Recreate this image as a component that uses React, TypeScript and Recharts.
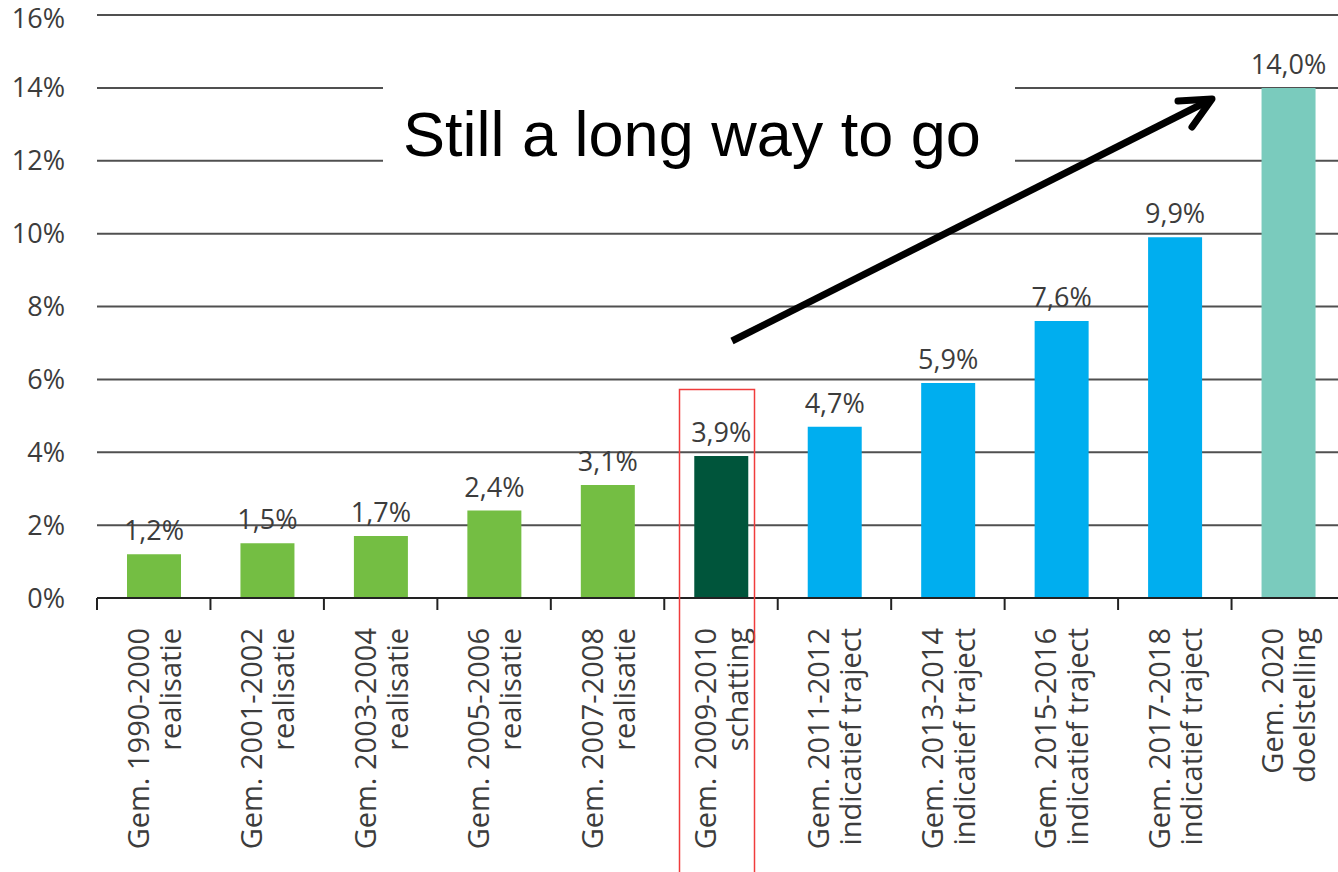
import { BarChart, Bar, XAxis, YAxis, CartesianGrid, Cell, LabelList } from 'recharts';

const periods = [
  'Gem. 1990-2000',
  'Gem. 2001-2002',
  'Gem. 2003-2004',
  'Gem. 2005-2006',
  'Gem. 2007-2008',
  'Gem. 2009-2010',
  'Gem. 2011-2012',
  'Gem. 2013-2014',
  'Gem. 2015-2016',
  'Gem. 2017-2018',
  'Gem. 2020',
];
const kinds = [
  'realisatie',
  'realisatie',
  'realisatie',
  'realisatie',
  'realisatie',
  'schatting',
  'indicatief traject',
  'indicatief traject',
  'indicatief traject',
  'indicatief traject',
  'doelstelling',
];
const shares = [1.2, 1.5, 1.7, 2.4, 3.1, 3.9, 4.7, 5.9, 7.6, 9.9, 14.0];
const yTicks = [0, 2, 4, 6, 8, 10, 12, 14, 16];

const KIND_COLORS: Record<string, string> = {
  realisatie: '#74BE43',
  schatting: '#00553B',
  'indicatief traject': '#00AEEF',
  doelstelling: '#7ACBBD',
};

const FONT = '"Open Sans", sans-serif';
const TEXT = '#3c3c3c';
const CHART_W = 1345;
const CHART_H = 872;
const Y_W = 97;
const BAND = (CHART_W - Y_W) / periods.length;

const data = periods.map((p, i) => ({ period: p, kind: kinds[i], share: shares[i] }));

const pct = (v: number) => `${v}%`;
const pctComma = (v: number) => `${Number(v).toFixed(1).replace('.', ',')}%`;

function PeriodTick(props: any) {
  const { x, y, payload } = props;
  const i = payload.index;
  const left = x - BAND / 2;
  return (
    <g>
      <line x1={left} x2={left} y1={y} y2={y + 12} stroke="#222" strokeWidth={2} />
      <g transform={`translate(${x},${y})`}>
        <text transform="rotate(-90)" textAnchor="end" fontSize={29} fill={TEXT} fontFamily={FONT}>
          <tspan x={-30} y={-5}>{periods[i]}</tspan>
          <tspan x={-30} y={27}>{kinds[i]}</tspan>
        </text>
      </g>
    </g>
  );
}

export default function App() {
  return (
    <div
      style={{
        position: 'fixed',
        left: 0,
        top: 0,
        width: 1338,
        height: 872,
        overflow: 'hidden',
        background: '#fff',
      }}
    >
      <BarChart
        width={CHART_W}
        height={CHART_H}
        data={data}
        margin={{ top: 15, right: 0, left: 0, bottom: 0 }}
      >
        <CartesianGrid horizontal vertical={false} stroke="#505050" strokeWidth={2} />
        <XAxis
          dataKey="period"
          interval={0}
          height={274}
          tickSize={0}
          tickMargin={0}
          tickLine={false}
          axisLine={{ stroke: '#222', strokeWidth: 2 }}
          tick={<PeriodTick />}
        />
        <YAxis
          domain={[0, 16]}
          ticks={yTicks}
          width={Y_W}
          tickSize={0}
          tickMargin={32}
          tickLine={false}
          axisLine={false}
          tickFormatter={pct}
          tick={{ fill: TEXT, fontSize: 27, fontFamily: FONT }}
        />
        <Bar dataKey="share" barSize={54} isAnimationActive={false}>
          {data.map((d) => (
            <Cell key={d.period} fill={KIND_COLORS[d.kind]} />
          ))}
          <LabelList
            dataKey="share"
            position="top"
            offset={14}
            formatter={pctComma}
            style={{ fill: TEXT, fontSize: 27, fontFamily: FONT }}
          />
        </Bar>
      </BarChart>

      <svg
        width={1338}
        height={872}
        style={{ position: 'absolute', left: 0, top: 0, pointerEvents: 'none' }}
      >
        <rect x={383} y={75} width={632} height={95} fill="#fff" />
        <text x={403} y={156} fontSize={63} fontFamily='"Liberation Sans", Arial, sans-serif' fill="#000">
          Still a long way to go
        </text>
        <line x1={732} y1={341} x2={1210} y2={100} stroke="#000" strokeWidth={7} />
        <polyline
          points="1178,101 1212,99 1192,127"
          fill="none"
          stroke="#000"
          strokeWidth={7}
          strokeLinecap="round"
          strokeLinejoin="round"
        />
        <rect x={679.5} y={389.5} width={75} height={490} fill="none" stroke="#f03c3c" strokeWidth={1.5} />
      </svg>
    </div>
  );
}
